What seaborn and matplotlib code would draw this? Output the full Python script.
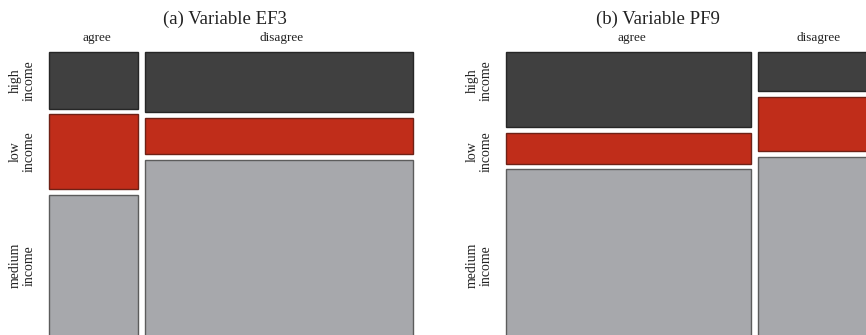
import matplotlib
matplotlib.use("Agg")
import matplotlib.pyplot as plt
import seaborn as sns

# ---- data (shares) ----
responses = ["agree", "disagree"]
income_levels = ["high\nincome", "low\nincome", "medium\nincome"]
titles = ["(a) Variable EF3", "(b) Variable PF9"]

ef3_col_share = [0.249, 0.751]
ef3_high = [0.208, 0.220]
ef3_low = [0.274, 0.135]
ef3_medium = [0.518, 0.645]

pf9_col_share = [0.679, 0.321]
pf9_high = [0.276, 0.143]
pf9_low = [0.114, 0.201]
pf9_medium = [0.610, 0.656]

sns.set_style("white")
plt.rcParams["font.family"] = ["Liberation Serif", "DejaVu Serif"]

fill_colors = ["#404040", "#c02d1a", "#a7a8ac"]
edge_colors = ["#262626", "#6e2116", "#5c5c5c"]

W, H, DPI = 866, 335, 100
fig = plt.figure(figsize=(W / DPI, H / DPI), dpi=DPI)


def px_axes(left, top, width, height):
    return fig.add_axes([left / W, 1 - (top + height) / H, width / W, height / H])


COL_GAP = 7.0
ROW_GAP = 5.5


def mosaic(ax, width, height, col_share, rows, label_centers):
    ax.set_xlim(0, width)
    ax.set_ylim(height, 0)
    ax.axis("off")
    avail_w = width - COL_GAP * (len(col_share) - 1)
    avail_h = height - ROW_GAP * (len(rows) - 1)
    x0 = 0.0
    for j, share in enumerate(col_share):
        w = avail_w * share
        y0 = 0.0
        for i, row in enumerate(rows):
            h = avail_h * row[j]
            ax.bar(x0, h, width=w, bottom=y0, align="edge",
                   color=fill_colors[i], edgecolor=edge_colors[i],
                   linewidth=1.0, clip_on=False)
            y0 += h + ROW_GAP
        ax.text(x0 + w / 2 + 3, -14.5, responses[j], ha="center", va="center",
                fontsize=9.5, color="#222222", clip_on=False)
        x0 += w + COL_GAP
    for lab, yc in zip(income_levels, label_centers):
        ax.text(-27, yc, lab, rotation=90, ha="center", va="center",
                fontsize=10, linespacing=1.05, color="#222222", clip_on=False)


PANEL_H = 284
# row-label centres follow the first column of panel (a)
avail_h_a = PANEL_H - ROW_GAP * 2
rows_a = [ef3_high, ef3_low, ef3_medium]
label_centers = []
y = 0.0
for r in rows_a:
    h = avail_h_a * r[0]
    label_centers.append(y + h / 2)
    y += h + ROW_GAP

axA = px_axes(49, 52, 364, PANEL_H)
mosaic(axA, 364, PANEL_H, ef3_col_share, rows_a, label_centers)

axB = px_axes(506, 52, 368, PANEL_H)
mosaic(axB, 368, PANEL_H, pf9_col_share, [pf9_high, pf9_low, pf9_medium], label_centers)

fig.text(225 / W, 1 - 19 / H, titles[0], ha="center", va="center", fontsize=13.5, color="#222222")
fig.text(658 / W, 1 - 19 / H, titles[1], ha="center", va="center", fontsize=13.5, color="#222222")

fig.savefig("out.png", dpi=DPI)
